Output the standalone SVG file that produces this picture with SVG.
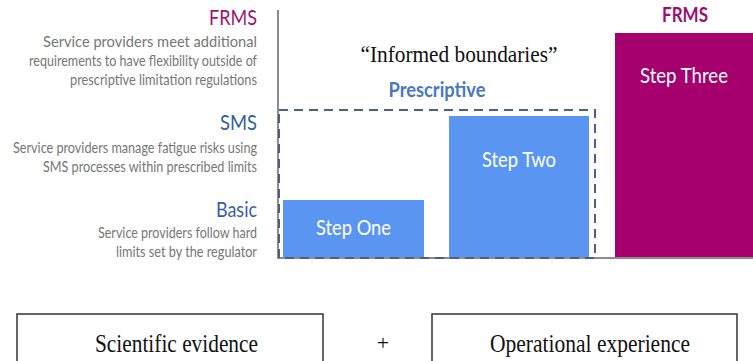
<svg xmlns="http://www.w3.org/2000/svg" width="753" height="361" viewBox="0 0 753 361">
  <style>
    .sans { font-family: Lato, "Open Sans", "Liberation Sans", sans-serif; }
    .serif { font-family: "Liberation Serif", "Times New Roman", serif; fill: #111; }
    .head { font-size: 22px; text-anchor: end; }
    .desc { font-size: 15px; fill: #767676; text-anchor: end; }
    .step { font-size: 21px; fill: #ffffff; text-anchor: middle; }
    .blue { fill: #5b95f2; }
    .axis { stroke: #8c8c8c; stroke-width: 2; fill: none; }
    .dash { stroke: #4b5f88; stroke-width: 2; stroke-dasharray: 9 6; fill: none; }
    .box { fill: #ffffff; stroke: #333333; stroke-width: 1.5; }
  </style>

  <rect width="753" height="361" fill="#ffffff"/>

  <!-- level descriptions on the left -->
  <g id="level-frms" class="sans">
    <text class="head" x="257" y="25" fill="#a0136f" textLength="48" lengthAdjust="spacingAndGlyphs">FRMS</text>
    <text class="desc" x="257" y="47" textLength="214" lengthAdjust="spacingAndGlyphs">Service providers meet additional</text>
    <text class="desc" x="257" y="66" textLength="228" lengthAdjust="spacingAndGlyphs">requirements to have flexibility outside of</text>
    <text class="desc" x="257" y="85" textLength="187" lengthAdjust="spacingAndGlyphs">prescriptive limitation regulations</text>
  </g>
  <g id="level-sms" class="sans">
    <text class="head" x="257" y="130" fill="#2f5f9e" textLength="37" lengthAdjust="spacingAndGlyphs">SMS</text>
    <text class="desc" x="257" y="153" textLength="244" lengthAdjust="spacingAndGlyphs">Service providers manage fatigue risks using</text>
    <text class="desc" x="257" y="172" textLength="214" lengthAdjust="spacingAndGlyphs">SMS processes within prescribed limits</text>
  </g>
  <g id="level-basic" class="sans">
    <text class="head" x="257" y="217" fill="#3b5ca6" textLength="41" lengthAdjust="spacingAndGlyphs">Basic</text>
    <text class="desc" x="257" y="238" textLength="159" lengthAdjust="spacingAndGlyphs">Service providers follow hard</text>
    <text class="desc" x="257" y="257" textLength="141" lengthAdjust="spacingAndGlyphs">limits set by the regulator</text>
  </g>

  <!-- axes -->
  <g id="connectors">
    <polyline class="axis" points="278,10 278,258 753,258"/>
  </g>

  <!-- prescriptive zone -->
  <g id="prescriptive">
    <text class="serif" x="459" y="62" font-size="23" text-anchor="middle" textLength="197" lengthAdjust="spacingAndGlyphs">“Informed boundaries”</text>
    <text class="sans" x="437" y="97" font-size="20" font-weight="bold" fill="#4a78c0" text-anchor="middle" textLength="97" lengthAdjust="spacingAndGlyphs">Prescriptive</text>
    <rect class="dash" x="279" y="110" width="316" height="148"/>
  </g>

  <g id="step-one" class="sans">
    <rect class="blue" x="283" y="200" width="141" height="57"/>
    <text class="step" x="353.5" y="235" textLength="75" lengthAdjust="spacingAndGlyphs">Step One</text>
  </g>
  <g id="step-two" class="sans">
    <rect class="blue" x="449" y="116" width="140" height="141"/>
    <text class="step" x="519" y="167" textLength="74" lengthAdjust="spacingAndGlyphs">Step Two</text>
  </g>
  <g id="step-three" class="sans">
    <text x="685" y="22" font-size="20" font-weight="bold" fill="#9c0f70" text-anchor="middle" textLength="46" lengthAdjust="spacingAndGlyphs">FRMS</text>
    <rect x="615" y="33" width="138" height="224" fill="#a6006e"/>
    <text class="step" x="684" y="83" textLength="88" lengthAdjust="spacingAndGlyphs">Step Three</text>
  </g>

  <!-- foundations -->
  <g id="scientific-evidence">
    <rect class="box" x="17" y="314" width="306" height="60"/>
    <text class="serif" x="176.5" y="352" font-size="25" text-anchor="middle" textLength="163" lengthAdjust="spacingAndGlyphs">Scientific evidence</text>
  </g>
  <g id="plus">
    <text class="serif" x="383" y="350" font-size="22" text-anchor="middle">+</text>
  </g>
  <g id="operational-experience">
    <rect class="box" x="432" y="314" width="305" height="60"/>
    <text class="serif" x="590" y="352" font-size="25" text-anchor="middle" textLength="200" lengthAdjust="spacingAndGlyphs">Operational experience</text>
  </g>
</svg>
